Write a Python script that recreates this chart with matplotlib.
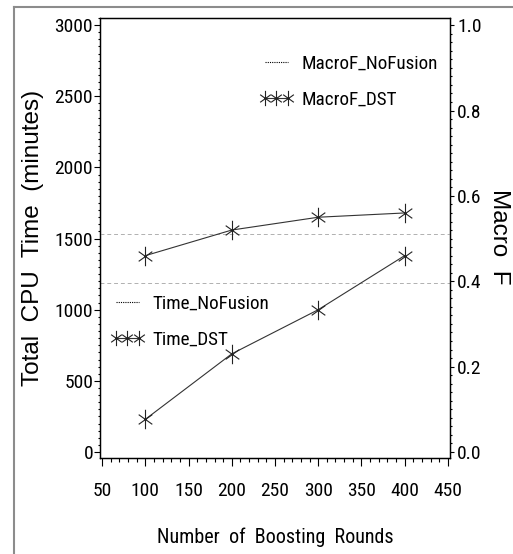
import numpy as np
import matplotlib
matplotlib.use('Agg')
import matplotlib.pyplot as plt
from matplotlib import font_manager
from matplotlib.font_manager import FontProperties
from matplotlib.ft2font import FT2Font
from matplotlib.lines import Line2D
from matplotlib.path import Path
from matplotlib.ticker import MultipleLocator

# boosting rounds vs. CPU time / macro F
rounds = [100, 200, 300, 400]
time_dst = [230, 690, 1000, 1380]
macrof_dst = [0.46, 0.52, 0.55, 0.56]
time_nofusion = 1190
macrof_nofusion = 0.51

x_ticks = [50, 100, 150, 200, 250, 300, 350, 400, 450]
time_ticks = [0, 500, 1000, 1500, 2000, 2500, 3000]
macrof_ticks = [0.0, 0.2, 0.4, 0.6, 0.8, 1.0]

SANS_FAMILIES = ('DejaVu Sans', 'Liberation Sans', 'Noto Sans', 'Roboto', 'Open Sans', 'Lato', 'Inter')
NEEDED = 'NumberofBoostingRoundsMacroF_DSTTimeNoFusion0123456789.'

W, H = 513, 554
fig = plt.figure(figsize=(W / 100, H / 100), dpi=100)
renderer = fig.canvas.get_renderer()


def measure(fp, text):
    w, h, d = renderer.get_text_width_height_descent(text, fp, ismath=False)
    return w, h - d


def covers(fname):
    try:
        font = FT2Font(fname)
        return all(font.get_char_index(ord(c)) for c in NEEDED)
    except Exception:
        return False


def narrow_font(target=2.47):
    # upright regular sans face whose digits are about as slim as the tick labels
    best, best_err = None, 1e9
    for f in font_manager.fontManager.ttflist:
        if not f.name.startswith(SANS_FAMILIES):
            continue
        if f.style != 'normal' or f.weight not in (400, 'normal', 'regular', 'book'):
            continue
        if any(k in f.name for k in ('Mono', 'CJK', 'Math', 'Symbol', 'Display')):
            continue
        if not covers(f.fname):
            continue
        fp = FontProperties(fname=f.fname, size=20)
        w, h = measure(fp, '3000')
        err = abs(w / h - target)
        if err < best_err:
            best, best_err = fp, err
    return best or FontProperties(family='Liberation Sans')


NARROW = narrow_font()
WIDE = 'Liberation Sans'

# six-armed star: tall vertical stroke plus two flat diagonals
STAR = Path([(0, -1), (0, 1), (-0.7, -0.5), (0.7, 0.5), (-0.7, 0.5), (0.7, -0.5)],
            [Path.MOVETO, Path.LINETO, Path.MOVETO, Path.LINETO, Path.MOVETO, Path.LINETO])


def fitted(text, width_px):
    fp = NARROW.copy()
    fp.set_size(10)
    fp.set_size(10 * width_px / measure(fp, text)[0])
    return fp


tick_fp = fitted('3000', 38)
legend_fp = fitted('MacroF_NoFusion', 137)
xlabel_fp = fitted('Number  of  Boosting  Rounds', 236)

ax = fig.add_axes([100 / W, 1 - 458 / H, 350 / W, 440 / H])
ax2 = ax.twinx()

ax.set_xlim(47.5, 452.5)
ax.set_ylim(-42, 3050)
ax2.set_ylim(-0.014, 1.0167)

ax.axhline(time_nofusion, color='#b0b0b0', lw=0.7, ls=(0, (4, 3)), zorder=1)
ax2.axhline(macrof_nofusion, color='#b0b0b0', lw=0.7, ls=(0, (4, 3)), zorder=1)

line_kw = dict(color='#333333', lw=0.8, marker=STAR, markersize=14,
               markeredgewidth=0.8, markeredgecolor='#222222', markerfacecolor='none')
ax.plot(rounds, time_dst, **line_kw)
ax2.plot(rounds, macrof_dst, **line_kw)

ax.set_xticks(x_ticks)
ax.xaxis.set_minor_locator(MultipleLocator(10))
ax.set_yticks(time_ticks)
ax.yaxis.set_minor_locator(MultipleLocator(50))
ax2.set_yticks(macrof_ticks)
ax2.set_yticklabels([f'{v:.1f}' for v in macrof_ticks])
ax2.yaxis.set_minor_locator(MultipleLocator(0.02))

ax.tick_params(axis='x', which='major', direction='out', length=6, width=0.8, pad=11)
ax.tick_params(axis='x', which='minor', direction='out', length=3, width=0.8)
ax.tick_params(axis='y', which='major', direction='out', length=4, width=0.8, pad=1)
ax.tick_params(axis='y', which='minor', direction='out', length=1.5, width=0.8)
ax2.tick_params(axis='y', which='major', direction='out', length=3, width=0.8, pad=2)
ax2.tick_params(axis='y', which='minor', direction='out', length=1.5, width=0.8)
for lab in ax.get_xticklabels() + ax.get_yticklabels() + ax2.get_yticklabels():
    lab.set_fontproperties(tick_fp)

for a in (ax, ax2):
    for sp in a.spines.values():
        sp.set_linewidth(0.9)

ax.set_xlabel('Number  of  Boosting  Rounds', fontproperties=xlabel_fp, labelpad=20)
fig.text(33 / W, 1 - 238 / H, 'Total  CPU  Time  (minutes)', rotation=90,
         fontfamily=WIDE, fontsize=17.5, ha='center', va='center')
fig.text(499 / W, 1 - 237 / H, 'Macro  F', rotation=-90,
         fontfamily=WIDE, fontsize=17.5, ha='center', va='center')

nofusion_proxy = Line2D([], [], color='black', lw=0.8, ls=(0, (1, 1)))
dst_proxy = Line2D([], [], color='#333333', lw=0.8, marker=STAR, markersize=11,
                   markeredgewidth=0.8, markeredgecolor='#222222', markerfacecolor='none')
leg_kw = dict(frameon=False, loc='upper left', numpoints=3, handlelength=1.8,
              handletextpad=0.4, labelspacing=0.95, borderpad=0, borderaxespad=0,
              prop=legend_fp)
leg1 = ax2.legend([nofusion_proxy, dst_proxy], ['MacroF_NoFusion', 'MacroF_DST'],
                  bbox_to_anchor=(259 / W, 1 - 55 / H), bbox_transform=fig.transFigure, **leg_kw)
leg2 = ax2.legend([nofusion_proxy, dst_proxy], ['Time_NoFusion', 'Time_DST'],
                  bbox_to_anchor=(110 / W, 1 - 295 / H), bbox_transform=fig.transFigure, **leg_kw)
ax2.add_artist(leg1)

# partial gray frame around the figure
fig.add_artist(Line2D([14 / W, 14 / W], [0, 1 - 7 / H], color='#8c8c8c', lw=1.5,
                      transform=fig.transFigure))
fig.add_artist(Line2D([14 / W, 1], [1 - 7 / H, 1 - 7 / H], color='#8c8c8c', lw=1.5,
                      transform=fig.transFigure))

fig.savefig('out.png', dpi=100)
